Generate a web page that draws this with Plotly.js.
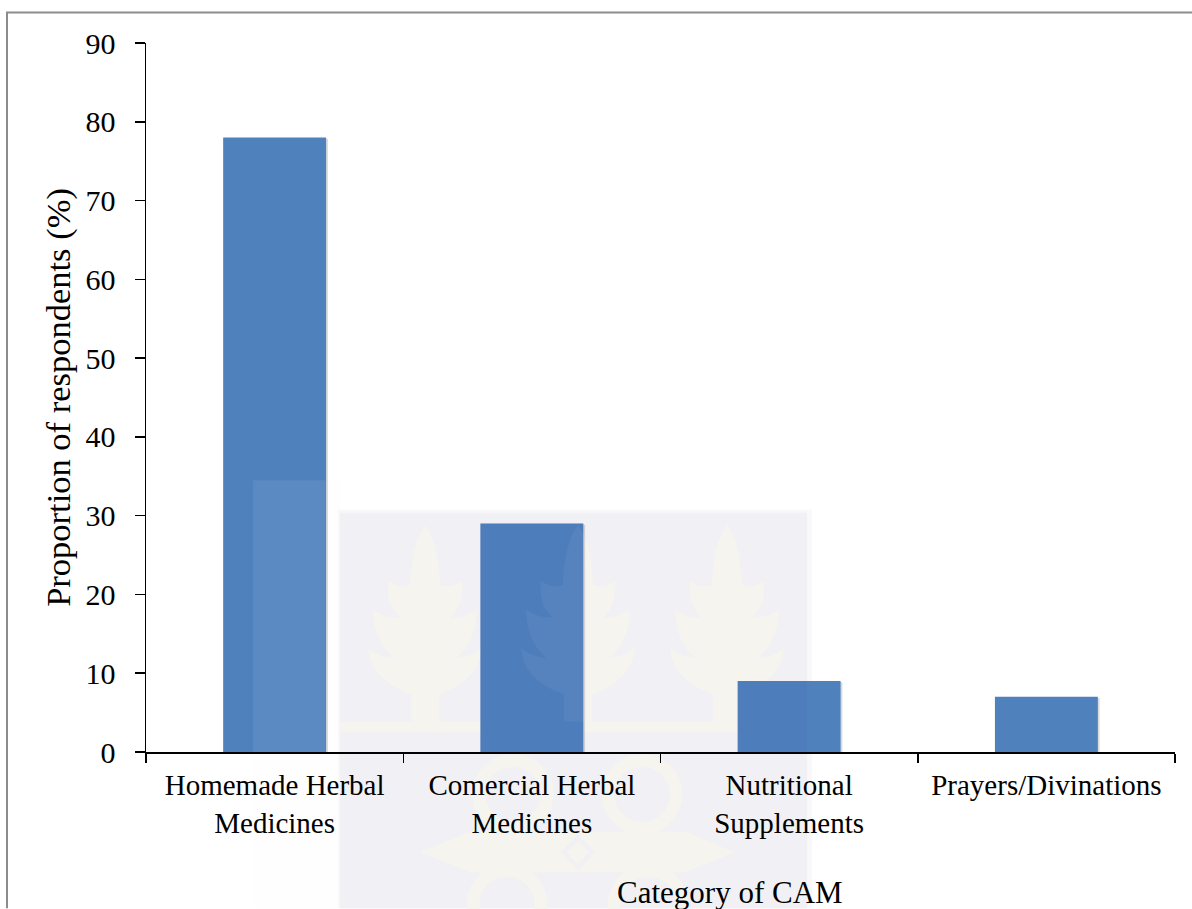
<!DOCTYPE html>
<html><head><meta charset="utf-8">
<script src="https://cdn.plot.ly/plotly-3.0.1.min.js"></script>
<style>html,body{margin:0;padding:0;background:#fff}</style></head>
<body><div id="chart" style="width:1192px;height:909px"></div>
<script>
const categories = ["Homemade Herbal<br>Medicines","Comercial Herbal<br>Medicines","Nutritional<br>Supplements","Prayers/Divinations"];
const values = [78,29,9,7];
const tickValues = [0,10,20,30,40,50,60,70,80,90];
const xTitle = "Category of CAM";
const yTitle = "Proportion of respondents (%)";
const W=1192,H=909,L=146,R=1175,T=42.5,B=752.5;
const FONT='"Liberation Serif",serif';
const px=x=>(x-L)/(R-L), py=y=>(B-y)/(B-T);
const P=(x,y)=>px(x)+' '+py(y);
function rect(x0,y0,x1,y1,color,layer,op){return {type:'rect',xref:'paper',yref:'paper',x0:px(x0),x1:px(x1),y0:py(y0),y1:py(y1),fillcolor:color,opacity:op==null?1:op,line:{width:0},layer:layer};}
function ring(cx,cy,r,color,w){return {type:'circle',xref:'paper',yref:'paper',x0:px(cx-r),x1:px(cx+r),y0:py(cy-r),y1:py(cy+r),line:{color:color,width:w},fillcolor:'rgba(0,0,0,0)',layer:'below'};}
// right half of the watermark tree as [ctrlDx,ctrlY,dx,y]
const half=[[14,545,15,585],[25,590,37,581],[40,605,25,618],[40,618,52,610],[52,640,32,658],[45,658,57,648],[55,680,14,695]];
function tree(c,color,layer,op){
  let d='M '+P(c,525);
  half.forEach(s=>{d+=' Q '+P(c+s[0],s[1])+' '+P(c+s[2],s[3]);});
  d+=' L '+P(c+14,722)+' L '+P(c-14,722)+' L '+P(c-14,695);
  const pts=[[0,525]].concat(half.map(s=>[s[2],s[3]]));
  for(let i=half.length-1;i>=0;i--){const s=half[i];d+=' Q '+P(c-s[0],s[1])+' '+P(c-pts[i][0],pts[i][1]);}
  return {type:'path',xref:'paper',yref:'paper',path:d+' Z',fillcolor:color,opacity:op==null?1:op,line:{width:0},layer:layer};
}
const cream='#f5f4ef', tint='#f0f0f5';
const bandBar=(i,x0,x1,color,op,ytop)=>({type:'rect',xref:'paper',yref:'y',x0:px(x0),x1:px(x1),y0:0,y1:ytop==null?values[i]:ytop,fillcolor:color,opacity:op,line:{width:0},layer:'above'});
const shadows=values.map((v,i)=>({type:'rect',xref:'x',yref:'y',x0:i-0.198,x1:i+0.207,y0:-0.3,y1:v-0.15,fillcolor:'#8f929a',opacity:0.35,line:{width:0},layer:'below'}));
const shapes=[
  {type:'path',xref:'paper',yref:'paper',path:`M ${P(7,909)} L ${P(7,12)} L ${P(1192,12)}`,line:{color:'#8c8c8c',width:2},layer:'below'},
  rect(253,481,340,909,'#fefefe','below'),
  rect(338,510,812,909,'#f8f8fa','below'),
  rect(340,513,807,909,tint,'below'),
  tree(425,cream,'below'),tree(578,cream,'below'),tree(727,cream,'below'),
  rect(340,722,807,733,cream,'below'),
  ring(513,795,34,cream,13),ring(642,795,34,cream,13),ring(507,905,34,cream,13),ring(648,905,34,cream,13),
  {type:'path',xref:'paper',yref:'paper',path:`M ${P(420,853)} L ${P(470,832)} L ${P(685,832)} L ${P(735,853)} L ${P(685,873)} L ${P(470,873)} Z`,fillcolor:cream,line:{width:0},layer:'below'},
  {type:'path',xref:'paper',yref:'paper',path:`M ${P(578,838)} L ${P(592,853)} L ${P(578,868)} L ${P(564,853)} Z`,fillcolor:'rgba(0,0,0,0)',line:{color:tint,width:4},layer:'below'},
  ...shadows,
  bandBar(0,253,325.5,'#ffffff',0.07,34.5),
  bandBar(1,480,583,'#3f63a8',0.12),
  bandBar(2,737.5,807,'#3f63a8',0.12),
  tree(578,'#ffffff','above',0.05),
];
Plotly.newPlot('chart',[{type:'bar',x:categories,y:values,width:0.4,marker:{color:'#4f81bd',line:{width:0}},hoverinfo:'x+y'}],{
  width:W,height:H,paper_bgcolor:'#ffffff',plot_bgcolor:'rgba(0,0,0,0)',showlegend:false,
  margin:{l:L,r:W-R,t:T,b:H-B,pad:0},
  font:{family:FONT,color:'#000'},
  xaxis:{type:'category',categoryorder:'array',categoryarray:categories,range:[-0.5,3.5],tickson:'boundaries',ticks:'outside',ticklen:9,tickwidth:1.5,tickcolor:'#000',showline:true,linecolor:'#000',linewidth:1.5,showgrid:false,zeroline:false,tickangle:0,ticklabelstandoff:7,tickfont:{size:29,family:FONT}},
  yaxis:{range:[0,90],tickmode:'array',tickvals:tickValues,ticktext:tickValues.map(String),ticks:'outside',ticklen:10,tickwidth:1.5,tickcolor:'#000',showline:true,linecolor:'#000',linewidth:1.5,showgrid:false,zeroline:false,ticklabelstandoff:13,tickfont:{size:30,family:FONT},
    title:{text:yTitle,font:{size:34.5,family:FONT},standoff:4}},
  annotations:[{text:xTitle,xref:'paper',yref:'paper',x:px(730),y:py(893),xanchor:'center',yanchor:'middle',showarrow:false,font:{size:31,family:FONT,color:'#000'}}],
  shapes:shapes
},{displayModeBar:false,staticPlot:true});
</script></body></html>
